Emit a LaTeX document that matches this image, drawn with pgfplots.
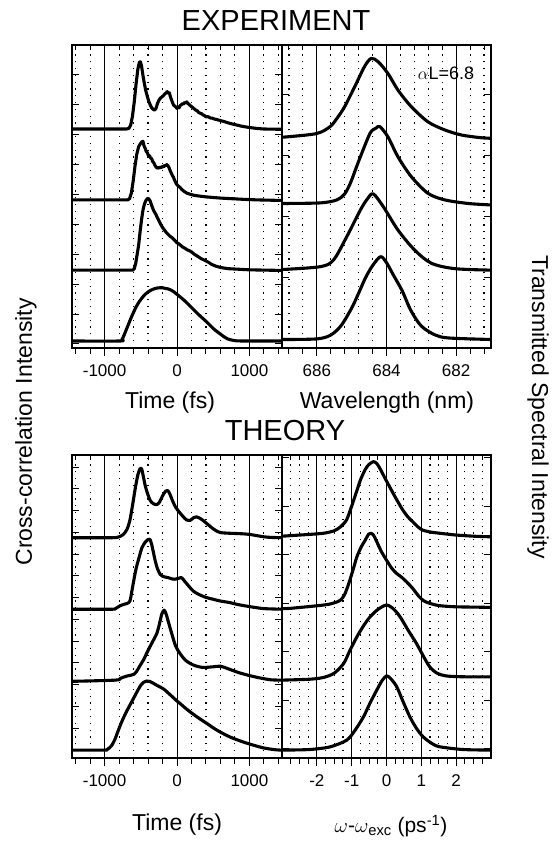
\documentclass[border=0pt]{standalone}
\usepackage{pgfplots}
\pgfplotsset{compat=1.18}
\usepackage{fontspec}
\setmainfont{Liberation Sans}
\pgfplotsset{
 base/.style={scale only axis, anchor=south west, ymin=0, ymax=10,
   axis line style={line width=1.5bp}, tick align=inside, xtick pos=top, ytick pos=both,
   xticklabels={}, yticklabels={}, major tick length=7bp, minor tick length=5bp,
   every tick/.style={black, line width=1bp},
   xmajorgrids, xminorgrids, major grid style={black, line width=0.9bp},
   minor grid style={black, line width=1.1bp, dash pattern=on 1.2bp off 5.6bp},
   cycle list={{black, no marks}},
   every axis plot/.append style={line width=3.1bp, black, line join=round, no marks}},
 tickaxis/.style={scale only axis, anchor=south west, height=20bp, ymin=0, ymax=1,
   axis x line=bottom, axis y line=none, ytick=\empty, tick align=outside,
   major tick length=8bp, minor tick length=6bp, every tick/.style={black, line width=1bp},
   x axis line style={-, line width=1.5bp},
   tick label style={font=\fontsize{17bp}{17bp}\selectfont}},
 timex/.style={xmin=-1450, xmax=1450, xtick={-1000,0,1000},
   minor xtick={-1400,-1200,-800,-600,-400,-200,200,400,600,800,1200,1400}},
 wavex/.style={x dir=reverse, xmin=681, xmax=687, xtick={682,684,686},
   minor xtick={681.2,681.6,682.4,682.8,683.2,683.6,684.4,684.8,685.2,685.6,686.4,686.8}},
 omegax/.style={xmin=-3, xmax=3, xtick={-2,-1,0,1,2},
   minor xtick={-2.75,-2.5,-2.25,-1.75,-1.5,-1.25,-0.75,-0.5,-0.25,0.25,0.5,0.75,1.25,1.5,1.75,2.25,2.5,2.75}},
}
\begin{document}
\begin{tikzpicture}
\path[use as bounding box] (0,0) rectangle (553bp,841bp);

% ---------------- EXPERIMENT: time ----------------
\begin{axis}[base, timex, at={(72bp,493bp)}, width=210bp, height=303bp, ymin=-0.134,
  ytick={0,1,2,3,4,5,6,7,8,9}]
\addplot[black] coordinates {
(-1450,7.19) (-700,7.19) (-665,7.21) (-640,7.32) (-615,7.62) (-590,8.10) (-565,8.70) (-540,9.20)
(-520,9.42) (-505,9.44) (-490,9.30) (-470,8.98) (-450,8.70) (-430,8.46) (-410,8.28) (-390,8.12)
(-370,8.00) (-350,7.90) (-330,7.85) (-310,7.82) (-290,7.88) (-270,8.04) (-250,8.15) (-230,8.22)
(-210,8.26) (-190,8.30) (-170,8.36) (-150,8.40) (-135,8.44) (-120,8.38) (-105,8.40) (-90,8.26)
(-75,8.16) (-60,8.06) (-45,7.98) (-30,7.96) (-15,7.92) (0,7.88) (15,7.93) (30,7.90) (45,7.98)
(60,8.00) (75,8.04) (90,8.02) (105,8.08) (120,8.06) (135,8.10) (150,8.04) (165,8.02) (180,7.98)
(200,7.94) (220,7.90) (240,7.86) (260,7.82) (280,7.80) (300,7.74) (320,7.72) (340,7.70)
(360,7.66) (380,7.64) (400,7.60) (430,7.60) (460,7.56) (490,7.55) (520,7.52) (560,7.50)
(600,7.47) (650,7.44) (700,7.40) (760,7.36) (830,7.32) (900,7.28) (1000,7.24) (1100,7.21)
(1200,7.19) (1450,7.18)};
\addplot[black] coordinates {
(-1450,4.82) (-680,4.82) (-655,4.86) (-630,5.05) (-605,5.45) (-580,5.95) (-555,6.35) (-530,6.60)
(-505,6.70) (-485,6.76) (-470,6.78) (-455,6.62) (-440,6.55) (-425,6.44) (-410,6.40) (-395,6.30)
(-380,6.30) (-365,6.22) (-350,6.20) (-335,6.10) (-320,6.06) (-305,5.98) (-290,5.92) (-275,5.88)
(-260,5.90) (-245,5.88) (-230,5.92) (-215,5.90) (-200,5.94) (-185,5.92) (-170,5.98) (-155,5.96)
(-140,6.00) (-125,5.96) (-110,5.90) (-95,5.80) (-80,5.72) (-65,5.64) (-50,5.58) (-30,5.46)
(-10,5.36) (10,5.30) (40,5.24) (70,5.16) (100,5.10) (140,5.04) (180,5.01) (240,4.97) (300,4.95)
(400,4.92) (500,4.90) (600,4.88) (750,4.86) (900,4.84) (1100,4.82) (1450,4.80)};
\addplot[black] coordinates {
(-1450,2.47) (-610,2.47) (-590,2.52) (-570,2.70) (-550,3.00) (-530,3.30) (-510,3.75) (-490,4.15)
(-470,4.48) (-450,4.68) (-430,4.80) (-410,4.86) (-395,4.87) (-370,4.78) (-345,4.60) (-320,4.45)
(-295,4.35) (-270,4.22) (-245,4.10) (-220,3.98) (-195,3.88) (-170,3.80) (-145,3.72) (-120,3.66)
(-95,3.60) (-70,3.56) (-45,3.50) (-20,3.44) (0,3.38) (20,3.36) (50,3.30) (80,3.24) (110,3.20)
(140,3.15) (170,3.12) (200,3.08) (240,3.00) (280,2.94) (330,2.86) (380,2.80) (430,2.74)
(480,2.66) (540,2.60) (600,2.56) (700,2.52) (850,2.50) (1000,2.48) (1450,2.46)};
\addplot[black, smooth, tension=0.5] coordinates {
(-1450,0.10) (-790,0.10) (-760,0.15) (-730,0.30) (-700,0.48) (-670,0.66) (-640,0.84) (-600,1.06)
(-560,1.26) (-520,1.42) (-480,1.55) (-440,1.66) (-400,1.74) (-360,1.80) (-320,1.84) (-280,1.87)
(-240,1.88) (-200,1.88) (-160,1.86) (-120,1.84) (-80,1.80) (-40,1.74) (0,1.66) (50,1.56)
(100,1.46) (150,1.34) (200,1.22) (250,1.10) (300,0.98) (350,0.87) (400,0.76) (450,0.64)
(500,0.52) (550,0.42) (600,0.33) (650,0.24) (700,0.17) (780,0.12) (900,0.10) (1450,0.10)};
\end{axis}
\begin{axis}[tickaxis, timex, at={(72bp,493bp)}, width=210bp,
  xticklabels={-1000,0,1000}, xticklabel style={yshift=-5bp}]
\end{axis}

% ---------------- EXPERIMENT: wavelength ----------------
\begin{axis}[base, wavex, at={(282bp,493bp)}, width=209bp, height=303bp, ymin=-0.134,
  ytick={0.2,2.24,4.28,6.32,8.36}]
\addplot[black, smooth, tension=0.5] coordinates {
(687,6.92) (686.83,6.93) (686.0,7.04) (685.62,7.27) (685.42,7.55) (685.2,7.94) (684.91,8.61)
(684.63,9.28) (684.44,9.55) (684.24,9.44) (683.96,9.05) (683.67,8.49) (683.29,7.94)
(682.81,7.43) (682.33,7.16) (681.85,6.99) (681.3,6.90) (681,6.88)};
\addplot[black, smooth, tension=0.5] coordinates {
(687,4.70) (686.83,4.70) (685.88,4.72) (685.42,4.82) (685.2,5.02) (685.04,5.37) (684.9,5.80)
(684.75,6.26) (684.47,7.05) (684.3,7.22) (684.19,7.27) (683.96,6.93) (683.67,6.26)
(683.29,5.60) (682.81,5.04) (682.33,4.82) (681.66,4.70) (681,4.65)};
\addplot[black, smooth, tension=0.5] coordinates {
(687,2.50) (686.83,2.50) (685.88,2.59) (685.52,2.81) (685.14,3.59) (684.75,4.48) (684.55,4.85)
(684.38,5.02) (684.09,4.59) (683.67,3.81) (683.19,3.14) (682.71,2.70) (682.04,2.52) (681,2.47)};
\addplot[black, smooth, tension=0.5] coordinates {
(687,0.15) (686.0,0.17) (685.6,0.30) (685.3,0.62) (685.0,1.20) (684.8,1.70) (684.6,2.22)
(684.4,2.62) (684.17,2.92) (684.0,2.72) (683.8,2.30) (683.55,1.78) (683.3,1.12) (683.0,0.60)
(682.6,0.30) (682.2,0.20) (681,0.15)};
\end{axis}
\begin{axis}[tickaxis, wavex, at={(282bp,493bp)}, width=209bp,
  xticklabels={682,684,686}, xticklabel style={yshift=-5bp}]
\end{axis}

% ---------------- THEORY: time ----------------
\begin{axis}[base, timex, at={(72bp,83bp)}, width=210bp, height=303bp,
  ytick={0.27,0.99,1.71,2.42,3.14,3.86,4.58,5.30,6.01,6.73,7.45,8.17,8.89,9.60}]
\addplot[black, smooth, tension=0.45] coordinates {
(-1450,7.27) (-900,7.27) (-800,7.30) (-740,7.38) (-690,7.55) (-650,7.85) (-610,8.40) (-575,8.92)
(-540,9.35) (-510,9.55) (-490,9.56) (-470,9.35) (-440,9.00) (-410,8.75) (-370,8.50) (-330,8.40)
(-280,8.36) (-240,8.45) (-200,8.65) (-160,8.80) (-130,8.83) (-100,8.72) (-60,8.48) (-20,8.28)
(30,8.12) (80,7.98) (130,7.86) (180,7.84) (230,7.93) (270,7.96) (310,7.92) (360,7.84)
(420,7.72) (480,7.60) (540,7.50) (600,7.44) (700,7.42) (800,7.41) (900,7.40) (1000,7.38)
(1100,7.34) (1200,7.30) (1300,7.28) (1450,7.27)};
\addplot[black, smooth, tension=0.45] coordinates {
(-1450,4.91) (-900,4.91) (-850,4.93) (-790,5.02) (-735,5.07) (-690,5.10) (-650,5.18) (-620,5.55)
(-590,5.95) (-560,6.30) (-520,6.65) (-484,6.94) (-440,7.12) (-400,7.21) (-375,7.22) (-350,7.05)
(-320,6.72) (-300,6.50) (-270,6.25) (-233,6.06) (-200,6.00) (-160,5.97) (-119,5.95) (-70,5.91)
(-27,5.90) (20,5.93) (64,5.95) (110,5.82) (160,5.68) (224,5.51) (300,5.40) (400,5.30)
(498,5.24) (600,5.18) (726,5.13) (850,5.06) (1046,4.98) (1200,4.93) (1450,4.91)};
\addplot[black, smooth, tension=0.45] coordinates {
(-1450,2.53) (-850,2.57) (-781,2.63) (-700,2.70) (-640,2.73) (-598,2.76) (-560,2.85) (-510,3.05)
(-460,3.25) (-416,3.47) (-350,3.78) (-279,4.11) (-240,4.45) (-210,4.75) (-178,4.88) (-150,4.75)
(-120,4.50) (-73,4.11) (-20,3.70) (41,3.45) (120,3.22) (224,3.07) (350,2.99) (500,3.01)
(600,3.03) (700,2.95) (850,2.82) (1000,2.72) (1150,2.64) (1300,2.58) (1450,2.57)};
\addplot[black, smooth, tension=0.45] coordinates {
(-1450,0.26) (-1000,0.26) (-960,0.29) (-930,0.34) (-900,0.42) (-860,0.60) (-820,0.85)
(-780,1.10) (-740,1.32) (-700,1.52) (-660,1.70) (-620,1.88) (-580,2.06) (-540,2.24) (-500,2.40)
(-460,2.50) (-420,2.54) (-380,2.53) (-330,2.47) (-280,2.40) (-187,2.28) (-100,2.10) (0,1.88)
(41,1.80) (150,1.58) (280,1.35) (406,1.15) (550,0.92) (726,0.70) (900,0.54) (1046,0.43)
(1200,0.33) (1366,0.27) (1450,0.26)};
\end{axis}
\begin{axis}[tickaxis, timex, at={(72bp,83bp)}, width=210bp,
  xticklabels={-1000,0,1000}, xticklabel style={yshift=-5bp}]
\end{axis}

% ---------------- THEORY: frequency ----------------
\begin{axis}[base, omegax, at={(282bp,83bp)}, width=209bp, height=303bp,
  ytick={0.31,1.91,3.51,5.11,6.71,8.31,9.91}]
\addplot[black, smooth, tension=0.45] coordinates {
(-3,7.32) (-2.74,7.34) (-2.2,7.38) (-1.79,7.42) (-1.5,7.50) (-1.32,7.63) (-1.15,7.85) (-1.04,8.18)
(-0.9,8.65) (-0.75,9.17) (-0.62,9.50) (-0.52,9.67) (-0.38,9.78) (-0.28,9.72) (-0.19,9.56)
(-0.05,9.25) (0.09,8.95) (0.28,8.55) (0.47,8.18) (0.62,7.95) (0.75,7.80) (0.9,7.63) (1.04,7.52)
(1.25,7.46) (1.51,7.42) (1.98,7.36) (2.5,7.32) (3,7.30)};
\addplot[black, smooth, tension=0.45] coordinates {
(-3,4.93) (-2.75,4.94) (-1.79,5.05) (-1.5,5.12) (-1.32,5.21) (-1.2,5.40) (-1.08,5.77)
(-0.95,6.25) (-0.85,6.64) (-0.72,6.98) (-0.61,7.19) (-0.52,7.38) (-0.45,7.42) (-0.37,7.35)
(-0.28,7.14) (-0.15,6.82) (0,6.53) (0.14,6.28) (0.28,6.10) (0.42,5.98) (0.57,5.82) (0.75,5.60)
(0.94,5.32) (1.08,5.18) (1.23,5.11) (1.5,5.03) (1.98,4.99) (2.5,4.98) (3,4.97)};
\addplot[black, smooth, tension=0.45] coordinates {
(-3,2.57) (-2.2,2.60) (-1.8,2.66) (-1.5,2.80) (-1.23,3.12) (-1.05,3.55) (-0.85,4.00) (-0.65,4.38)
(-0.47,4.66) (-0.25,4.90) (0,5.05) (0.2,4.92) (0.39,4.66) (0.62,4.22) (0.86,3.78) (1.05,3.38)
(1.24,3.01) (1.45,2.80) (1.7,2.71) (2.2,2.68) (3,2.68)};
\addplot[black, smooth, tension=0.45] coordinates {
(-3,0.26) (-2.2,0.28) (-1.61,0.37) (-1.14,0.59) (-0.9,0.92) (-0.66,1.36) (-0.47,1.82) (-0.28,2.24)
(-0.13,2.55) (0,2.71) (0.12,2.62) (0.29,2.36) (0.48,1.85) (0.67,1.36) (0.86,0.98) (1.05,0.70)
(1.3,0.48) (1.53,0.37) (2.19,0.28) (3,0.26)};
\end{axis}
\begin{axis}[tickaxis, omegax, at={(282bp,83bp)}, width=209bp,
  xticklabels={-2,-1,0,1,2}, xticklabel style={yshift=-5bp}]
\end{axis}

% ---------------- texts ----------------
\node[font=\fontsize{29bp}{29bp}\selectfont] at (276bp,820bp) {EXPERIMENT};
\node[font=\fontsize{29bp}{29bp}\selectfont] at (285bp,410bp) {THEORY};
\node[font=\fontsize{18bp}{18bp}\selectfont] at (446bp,768bp) {$\alpha$L=6.8};
\node[font=\fontsize{23bp}{23bp}\selectfont] at (170bp,438bp) {Time (fs)};
\node[font=\fontsize{23bp}{23bp}\selectfont] at (387bp,438bp) {Wavelength (nm)};
\node[font=\fontsize{23bp}{23bp}\selectfont] at (177bp,16bp) {Time (fs)};
\node[font=\fontsize{21bp}{21bp}\selectfont] at (391bp,15bp) {$\omega$-$\omega$\textsubscript{exc} (ps\textsuperscript{-1})};
\node[font=\fontsize{23bp}{23bp}\selectfont, rotate=90] at (26bp,409bp) {Cross-correlation Intensity};
\node[font=\fontsize{23bp}{23bp}\selectfont, rotate=-90] at (538bp,434bp) {Transmitted Spectral Intensity};
\end{tikzpicture}
\end{document}
